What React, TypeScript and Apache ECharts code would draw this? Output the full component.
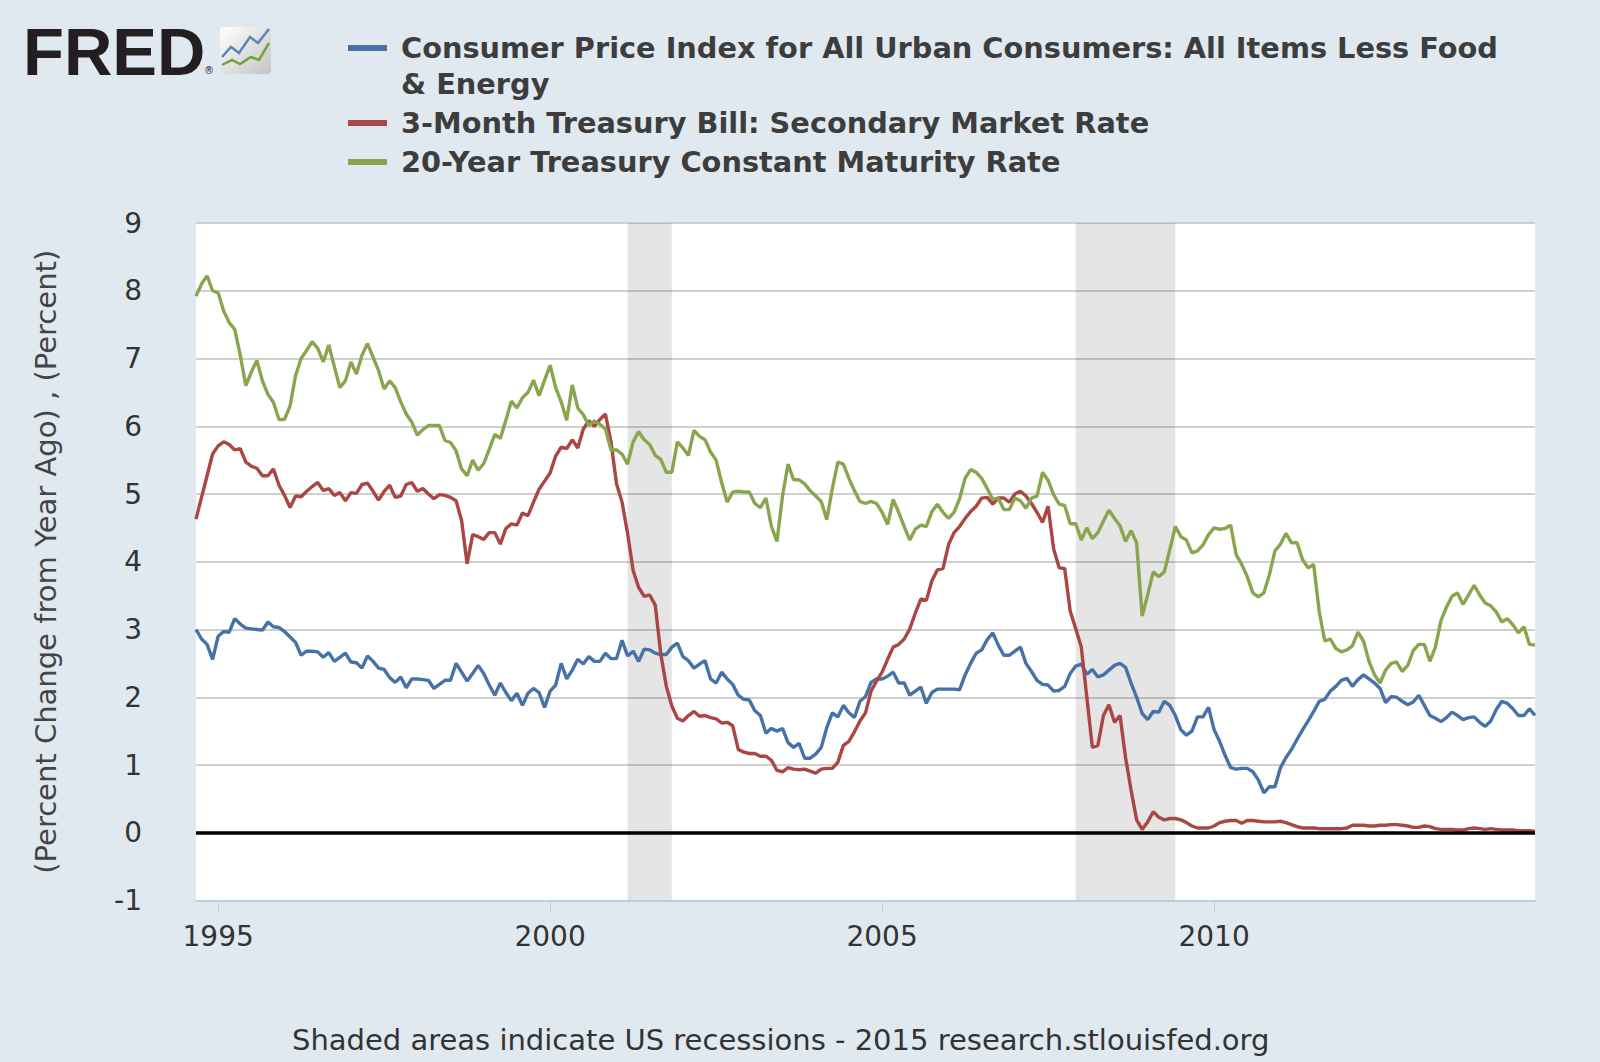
import { useEffect, useRef } from 'react';
import * as echarts from 'echarts';

// monthly observations, Sep 1994 .. Nov 2014 (one row per year)
const START = { year: 1994, month: 9 };

const cpiCore = [
  3.0, 2.86, 2.78, 2.56,
  2.9, 2.97, 2.96, 3.16, 3.08, 3.02, 3.01, 3.0, 2.99, 3.11, 3.04, 3.03,
  2.97, 2.89, 2.81, 2.62, 2.68, 2.68, 2.67, 2.59, 2.66, 2.53, 2.59, 2.65,
  2.52, 2.51, 2.43, 2.61, 2.53, 2.43, 2.41, 2.29, 2.22, 2.3, 2.14, 2.27,
  2.27, 2.26, 2.25, 2.13, 2.19, 2.25, 2.25, 2.5, 2.37, 2.24, 2.35, 2.47,
  2.35, 2.18, 2.03, 2.21, 2.07, 1.95, 2.06, 1.88, 2.06, 2.13, 2.07, 1.85,
  2.09, 2.18, 2.5, 2.27, 2.4, 2.56, 2.49, 2.6, 2.53, 2.53, 2.65, 2.57,
  2.57, 2.84, 2.61, 2.68, 2.53, 2.71, 2.7, 2.65, 2.63, 2.63, 2.74, 2.8,
  2.6, 2.54, 2.43, 2.49, 2.54, 2.27, 2.21, 2.37, 2.27, 2.19, 2.03, 1.97,
  1.96, 1.8, 1.73, 1.47, 1.54, 1.5, 1.54, 1.33, 1.26, 1.32, 1.1, 1.1,
  1.16, 1.26, 1.55, 1.77, 1.71, 1.88, 1.77, 1.7, 1.94, 2.01, 2.22, 2.27,
  2.27, 2.31, 2.37, 2.21, 2.21, 2.03, 2.09, 2.15, 1.91, 2.07, 2.12, 2.12,
  2.12, 2.12, 2.11, 2.33, 2.5, 2.65, 2.7, 2.85, 2.95, 2.77, 2.62, 2.62,
  2.68, 2.74, 2.5, 2.38, 2.25, 2.19, 2.18, 2.09, 2.1, 2.16, 2.35, 2.46,
  2.49, 2.34, 2.41, 2.3, 2.33, 2.4, 2.47, 2.5, 2.44, 2.21, 2.0, 1.76,
  1.67, 1.79, 1.78, 1.94, 1.88, 1.73, 1.52, 1.44, 1.5, 1.71, 1.71, 1.85,
  1.52, 1.35, 1.14, 0.96, 0.94, 0.95, 0.95, 0.9, 0.78, 0.59, 0.68, 0.68,
  0.96, 1.11, 1.23, 1.38, 1.52, 1.65, 1.79, 1.94, 1.97, 2.09, 2.16, 2.25,
  2.28, 2.16, 2.26, 2.33, 2.27, 2.21, 2.13, 1.92, 2.01, 2.0, 1.94, 1.89,
  1.93, 2.03, 1.88, 1.73, 1.69, 1.64, 1.7, 1.78, 1.73, 1.67, 1.7, 1.71,
  1.63, 1.57, 1.65, 1.82, 1.94, 1.91, 1.83, 1.73, 1.73, 1.83, 1.73,
];

const tbill3m = [
  4.63, 4.95, 5.27, 5.59,
  5.71, 5.77, 5.73, 5.65, 5.67, 5.47, 5.41, 5.38, 5.27, 5.27, 5.37, 5.13,
  4.98, 4.8, 4.97, 4.96, 5.04, 5.11, 5.17, 5.05, 5.08, 4.98, 5.02, 4.9,
  5.02, 5.01, 5.14, 5.16, 5.04, 4.91, 5.04, 5.13, 4.95, 4.97, 5.14, 5.17,
  5.04, 5.08, 5.0, 4.93, 4.99, 4.98, 4.95, 4.9, 4.61, 3.97, 4.4, 4.37,
  4.33, 4.43, 4.43, 4.26, 4.49, 4.56, 4.54, 4.72, 4.68, 4.88, 5.07, 5.19,
  5.31, 5.56, 5.69, 5.67, 5.8, 5.68, 5.96, 6.08, 6.0, 6.1, 6.18, 5.77,
  5.15, 4.88, 4.42, 3.87, 3.62, 3.49, 3.51, 3.36, 2.64, 2.16, 1.87, 1.69,
  1.65, 1.73, 1.79, 1.72, 1.73, 1.7, 1.68, 1.62, 1.63, 1.58, 1.23, 1.19,
  1.17, 1.17, 1.13, 1.13, 1.07, 0.92, 0.9, 0.96, 0.94, 0.93, 0.94, 0.91,
  0.88, 0.94, 0.95, 0.95, 1.04, 1.29, 1.35, 1.49, 1.65, 1.77, 2.09, 2.24,
  2.37, 2.56, 2.74, 2.78, 2.86, 3.01, 3.24, 3.45, 3.43, 3.72, 3.88, 3.9,
  4.25, 4.43, 4.52, 4.64, 4.74, 4.82, 4.94, 4.95, 4.85, 4.94, 4.94, 4.88,
  5.0, 5.04, 4.97, 4.86, 4.73, 4.58, 4.82, 4.19, 3.91, 3.9, 3.27, 3.01,
  2.74, 2.0, 1.26, 1.29, 1.73, 1.89, 1.63, 1.73, 1.11, 0.63, 0.19, 0.05,
  0.16, 0.31, 0.23, 0.19, 0.21, 0.21, 0.19, 0.15, 0.1, 0.07, 0.07, 0.07,
  0.1, 0.15, 0.17, 0.18, 0.18, 0.14, 0.18, 0.18, 0.17, 0.16, 0.16, 0.16,
  0.17, 0.15, 0.12, 0.09, 0.07, 0.07, 0.07, 0.06, 0.06, 0.06, 0.06, 0.06,
  0.07, 0.11, 0.11, 0.11, 0.1, 0.1, 0.11, 0.11, 0.12, 0.12, 0.11, 0.1,
  0.08, 0.08, 0.1, 0.09, 0.06, 0.05, 0.05, 0.05, 0.04, 0.04, 0.06, 0.07,
  0.06, 0.05, 0.06, 0.05, 0.04, 0.04, 0.04, 0.03, 0.03, 0.03, 0.02,
];

const tsy20y = [
  7.92, 8.1, 8.22, 8.0,
  7.97, 7.7, 7.53, 7.43, 7.05, 6.6, 6.8, 6.97, 6.67, 6.47, 6.35, 6.1,
  6.1, 6.3, 6.75, 7.0, 7.12, 7.25, 7.15, 6.95, 7.2, 6.88, 6.57, 6.67,
  6.95, 6.77, 7.05, 7.22, 7.02, 6.82, 6.55, 6.67, 6.57, 6.36, 6.18, 6.06,
  5.87, 5.95, 6.01, 6.01, 6.01, 5.79, 5.76, 5.64, 5.37, 5.27, 5.5, 5.35,
  5.45, 5.66, 5.88, 5.82, 6.09, 6.37, 6.27, 6.42, 6.5, 6.68, 6.45, 6.68,
  6.9, 6.57, 6.36, 6.09, 6.61, 6.27, 6.17, 6.01, 6.08, 6.03, 5.96, 5.65,
  5.65, 5.59, 5.44, 5.77, 5.92, 5.8, 5.73, 5.57, 5.51, 5.32, 5.32, 5.77,
  5.68, 5.57, 5.94, 5.85, 5.8, 5.62, 5.5, 5.17, 4.88, 5.03, 5.04, 5.03,
  5.03, 4.86, 4.8, 4.94, 4.52, 4.3, 4.97, 5.44, 5.21, 5.21, 5.15, 5.05,
  4.97, 4.89, 4.62, 5.08, 5.47, 5.44, 5.23, 5.05, 4.89, 4.86, 4.89, 4.86,
  4.73, 4.55, 4.92, 4.73, 4.52, 4.32, 4.48, 4.54, 4.52, 4.74, 4.85, 4.73,
  4.64, 4.73, 4.93, 5.23, 5.36, 5.32, 5.23, 5.08, 4.92, 4.94, 4.77, 4.77,
  4.94, 4.9, 4.79, 4.94, 4.97, 5.32, 5.2, 4.99, 4.85, 4.83, 4.56, 4.56,
  4.32, 4.5, 4.34, 4.43, 4.6, 4.76, 4.64, 4.53, 4.3, 4.46, 4.28, 3.2,
  3.51, 3.85, 3.78, 3.85, 4.18, 4.52, 4.37, 4.32, 4.13, 4.16, 4.25, 4.4,
  4.5, 4.48, 4.49, 4.54, 4.1, 3.96, 3.78, 3.54, 3.48, 3.54, 3.81, 4.16,
  4.26, 4.42, 4.28, 4.28, 4.03, 3.91, 3.96, 3.27, 2.83, 2.86, 2.72, 2.67,
  2.7, 2.76, 2.96, 2.83, 2.53, 2.33, 2.21, 2.4, 2.5, 2.52, 2.38, 2.47,
  2.69, 2.78, 2.78, 2.53, 2.74, 3.13, 3.33, 3.49, 3.54, 3.37, 3.51, 3.65,
  3.51, 3.39, 3.35, 3.26, 3.11, 3.16, 3.07, 2.95, 3.04, 2.78, 2.77,
];

const recessions = [['2001-03', '2001-11'], ['2007-12', '2009-06']];
const yearTicks = ['1995', '2000', '2005', '2010'];

const legendItems = [
  { lines: ['Consumer Price Index for All Urban Consumers: All Items Less Food', '& Energy'], color: '#4572a7' },
  { lines: ['3-Month Treasury Bill: Secondary Market Rate'], color: '#aa4643' },
  { lines: ['20-Year Treasury Constant Maturity Rate'], color: '#89a54e' },
];
const seriesNames = [
  'Consumer Price Index for All Urban Consumers: All Items Less Food & Energy',
  '3-Month Treasury Bill: Secondary Market Rate',
  '20-Year Treasury Constant Maturity Rate',
];

const months = cpiCore.map((_, i) => {
  const m = START.month - 1 + i;
  return `${START.year + Math.floor(m / 12)}-${String((m % 12) + 1).padStart(2, '0')}`;
});

const FONT = '"DejaVu Sans", Verdana, sans-serif';
const isYearTick = (_: number, v: string) => v.endsWith('-01') && yearTicks.includes(v.slice(0, 4));

function legendGraphics() {
  const out: any[] = [];
  let y = 48;
  legendItems.forEach((it) => {
    out.push({ type: 'rect', shape: { x: 348, y: y - 3, width: 39, height: 6 }, style: { fill: it.color } });
    it.lines.forEach((ln, k) => {
      out.push({
        type: 'text', x: 401, y: y + k * 36,
        style: { text: ln, font: `bold 28.8px ${FONT}`, fill: '#3d3d3d', verticalAlign: 'middle' },
      });
    });
    y += it.lines.length * 36 + 3;
  });
  return out;
}

function logoGraphics() {
  return [
    { type: 'text', x: 23, y: 51, style: { text: 'FRED', font: `900 67px "Liberation Sans", Arial, sans-serif`, fill: '#231f20', verticalAlign: 'middle' } },
    { type: 'text', x: 204, y: 70, style: { text: '®', font: `10px ${FONT}`, fill: '#231f20', verticalAlign: 'middle' } },
    {
      type: 'rect', shape: { x: 220, y: 27, width: 51, height: 47, r: 4 },
      style: { fill: new echarts.graphic.LinearGradient(0, 0, 1, 1, [{ offset: 0, color: '#ffffff' }, { offset: 1, color: '#c4c4c4' }]) },
    },
    { type: 'polyline', shape: { points: [[222, 57], [231, 47], [239, 53], [250, 37], [258, 43], [269, 29]] }, style: { stroke: '#5b86b5', lineWidth: 2.5, fill: null } },
    { type: 'polyline', shape: { points: [[222, 65], [232, 60], [240, 64], [251, 57], [259, 60], [269, 43]] }, style: { stroke: '#6fa43a', lineWidth: 2.5, fill: null } },
  ];
}

export default function App() {
  const ref = useRef<HTMLDivElement>(null);

  useEffect(() => {
    if (!ref.current) return;
    const chart = echarts.init(ref.current, undefined, { renderer: 'svg' });
    const line = (name: string, data: number[], color: string) => ({
      type: 'line', name, data, symbol: 'none', showSymbol: false, z: 3,
      lineStyle: { color, width: 3.4 }, itemStyle: { color }, emphasis: { disabled: true },
    });
    chart.setOption({
      animation: false,
      backgroundColor: '#e1e9f0',
      textStyle: { fontFamily: FONT },
      grid: { left: 196, right: 65, top: 223, bottom: 161.5, show: true, backgroundColor: '#ffffff', borderWidth: 0 },
      xAxis: {
        type: 'category', data: months, boundaryGap: false,
        axisLine: { onZero: false, lineStyle: { color: '#c0d0e0', width: 2 } },
        axisTick: { interval: isYearTick, length: 13, lineStyle: { color: '#c0d0e0', width: 1 } },
        axisLabel: { interval: isYearTick, formatter: (v: string) => v.slice(0, 4), fontSize: 28, color: '#333', margin: 22, fontFamily: FONT },
        splitLine: { show: false },
      },
      yAxis: {
        type: 'value', min: -1, max: 9, interval: 1,
        name: '(Percent Change from Year Ago) , (Percent)', nameLocation: 'middle', nameRotate: 90, nameGap: 136,
        nameTextStyle: { fontSize: 29, color: '#444', fontFamily: FONT },
        axisLine: { show: false }, axisTick: { show: false },
        axisLabel: { fontSize: 28, color: '#333', margin: 54, fontFamily: FONT },
        splitLine: { lineStyle: { color: '#c0c0c0', width: 1.5 } },
      },
      series: [
        {
          type: 'line', name: 'recessions', data: [], z: 1, silent: true,
          markArea: {
            silent: true, label: { show: false }, itemStyle: { color: 'rgba(0,0,0,0.1)' },
            data: recessions.map(([a, b]) => [{ xAxis: a }, { xAxis: b }]),
          },
          markLine: {
            silent: true, symbol: 'none', label: { show: false },
            lineStyle: { color: '#000', width: 3.5, type: 'solid' }, data: [{ yAxis: 0 }],
          },
        },
        line(seriesNames[0], cpiCore, '#4572a7'),
        line(seriesNames[1], tbill3m, '#aa4643'),
        line(seriesNames[2], tsy20y, '#89a54e'),
      ],
      graphic: [
        ...logoGraphics(),
        ...legendGraphics(),
        { type: 'text', x: 292, y: 1040, style: { text: 'Shaded areas indicate US recessions - 2015 research.stlouisfed.org', font: `29px ${FONT}`, fill: '#333', verticalAlign: 'middle' } },
      ],
    });
    return () => chart.dispose();
  }, []);

  return <div ref={ref} style={{ position: 'absolute', left: 0, top: 0, width: 1600, height: 1062 }} />;
}
